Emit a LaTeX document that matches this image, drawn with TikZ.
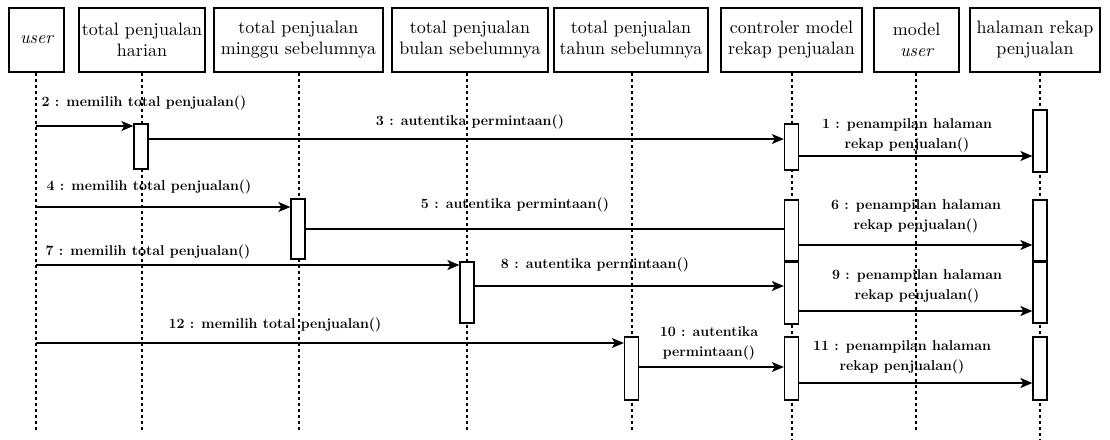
\documentclass[tikz,border=0pt]{standalone}
\usepackage{fontspec}
\newfontfamily\headfont[ItalicFont=lmroman10-italic.otf]{lmroman10-regular.otf}
\usetikzlibrary{arrows.meta}
\begin{document}
\begin{tikzpicture}[x=1pt,y=-1pt,
  head/.style={draw, line width=1.3pt, minimum height=64pt, inner sep=1pt,
    align=center, font=\headfont\fontsize{18}{21}\selectfont},
  life/.style={line width=1.1pt, dash pattern=on 3pt off 3pt},
  act/.style={draw, fill=white, line width=1.3pt, minimum width=14pt, inner sep=0pt},
  msg/.style={line width=1.4pt, -{Stealth[length=12pt,width=10pt,inset=3pt]}},
  plain/.style={line width=1.4pt},
  lbl/.style={font=\bfseries\fontsize{14.2}{20}\selectfont, align=center, inner sep=0pt}]
\useasboundingbox (0,0) rectangle (1110,439);
\fill[white] (0,0) rectangle (1110,439);

% object boxes
\node[head, minimum width=55pt]  (user)  at (36.5,40)  {\itshape user};
\node[head, minimum width=126pt] (har)   at (142,40)   {total penjualan\\harian};
\node[head, minimum width=169pt] (ming)  at (298.5,40) {total penjualan\\minggu sebelumnya};
\node[head, minimum width=156pt] (bul)   at (470,40)   {total penjualan\\bulan sebelumnya};
\node[head, minimum width=154pt] (tah)   at (631,40)   {total penjualan\\tahun sebelumnya};
\node[head, minimum width=141pt] (ctrl)  at (791.5,40) {controler model\\rekap penjualan};
\node[head, minimum width=85pt]  (model) at (916.5,40) {model\\\itshape user};
\node[head, minimum width=130pt] (hal)   at (1035,40)  {halaman rekap\\penjualan};

% lifelines
\coordinate (eU) at (36,432);
\coordinate (eHr) at (142,432);
\coordinate (eMg) at (299,432);
\coordinate (eBl) at (467,432);
\coordinate (eTh) at (632,432);
\coordinate (eCt) at (792,439);
\coordinate (eMd) at (916,432);
\coordinate (eHl) at (1040,439);
\draw[life] (user.south -| eU) -- (eU);
\draw[life] (har.south -| eHr) -- (eHr);
\draw[life] (ming.south -| eMg) -- (eMg);
\draw[life] (bul.south -| eBl) -- (eBl);
\draw[life] (tah.south -| eTh) -- (eTh);
\draw[life] (ctrl.south -| eCt) -- (eCt);
\draw[life] (model.south -| eMd) -- (eMd);
\draw[life] (hal.south -| eHl) -- (eHl);

% activation bars
\node[act, minimum height=45pt] (A1) at (141,146.5) {};
\node[act, minimum height=60pt] (A2) at (298,229) {};
\node[act, minimum height=61pt] (A3) at (467,292.5) {};
\node[act, minimum height=63pt] (A4) at (631.5,368.5) {};
\node[act, minimum height=46pt] (C1) at (791.5,147) {};
\node[act, minimum height=61pt] (C2) at (791.5,230.5) {};
\node[act, minimum height=62pt] (C3) at (791.5,293) {};
\node[act, minimum height=63pt] (C4) at (791.5,368.5) {};
\node[act, minimum height=62pt] (H1) at (1040,141) {};
\node[act, minimum height=61pt] (H2) at (1040,230.5) {};
\node[act, minimum height=61pt] (H3) at (1040,292.5) {};
\node[act, minimum height=63pt] (H4) at (1040,368.5) {};

% messages
\coordinate (s2) at (36,126);
\coordinate (s4) at (36,207);
\coordinate (s7) at (36,265);
\coordinate (s12) at (36,343);
\draw[msg] (s2) -- (s2 -| A1.west);
\draw[msg] (A1.east |- 0,139) -- (C1.west |- 0,139);
\draw[msg] (C1.east |- 0,156) -- (H1.west |- 0,156);
\draw[msg] (s4) -- (s4 -| A2.west);
\draw[plain] (A2.east |- 0,229) -- (C2.west |- 0,229);
\draw[msg] (C2.east |- 0,245) -- (H2.west |- 0,245);
\draw[msg] (s7) -- (s7 -| A3.west);
\draw[msg] (A3.east |- 0,286) -- (C3.west |- 0,286);
\draw[msg] (C3.east |- 0,311) -- (H3.west |- 0,311);
\draw[msg] (s12) -- (s12 -| A4.west);
\draw[msg] (A4.east |- 0,367) -- (C4.west |- 0,367);
\draw[msg] (C4.east |- 0,383) -- (H4.west |- 0,383);

% message labels
\node[lbl] (l2)  at (144,103) {2 : memilih total penjualan()};
\node[lbl] (l3)  at (470,122) {3 : autentika permintaan()};
\node[lbl] (l1)  at (907,135) {1 : penampilan halaman\\rekap penjualan()};
\node[lbl] (l4)  at (149,187) {4 : memilih total penjualan()};
\node[lbl] (l5)  at (515,205) {5 : autentika permintaan()};
\node[lbl] (l6)  at (916,216.5) {6 : penampilan halaman\\rekap penjualan()};
\node[lbl] (l7)  at (148,252) {7 : memilih total penjualan()};
\node[lbl] (l8)  at (595,265) {8 : autentika permintaan()};
\node[lbl] (l9)  at (917,286) {9 : penampilan halaman\\rekap penjualan()};
\node[lbl] (l12) at (275,325) {12 : memilih total penjualan()};
\node[lbl] (l10) at (709,343.5) {10 : autentika\\permintaan()};
\node[lbl] (l11) at (902,357.5) {11 : penampilan halaman\\rekap penjualan()};
\end{tikzpicture}
\end{document}
